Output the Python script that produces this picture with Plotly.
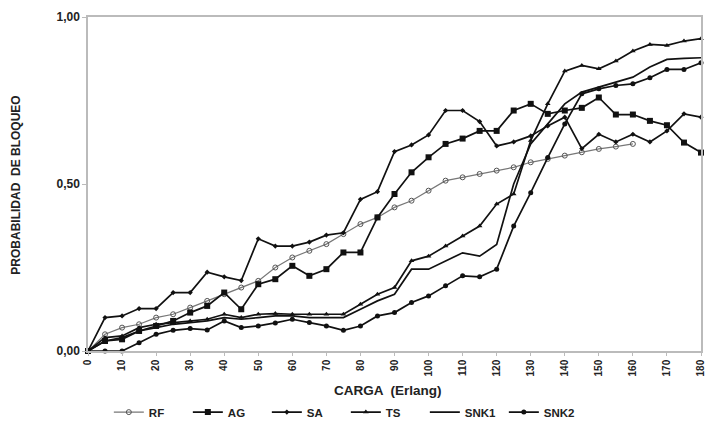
import plotly.graph_objects as go

carga = list(range(0, 185, 5))

rf = [0.00, 0.05, 0.07, 0.08, 0.10, 0.11, 0.13, 0.15, 0.17, 0.19, 0.21, 0.25, 0.28, 0.30, 0.32, 0.35,
      0.38, 0.40, 0.43, 0.45, 0.48, 0.51, 0.52, 0.53, 0.54, 0.55, 0.565, 0.575, 0.585, 0.595, 0.605,
      0.612, 0.62]
ag = [0.00, 0.03, 0.035, 0.06, 0.075, 0.09, 0.115, 0.135, 0.175, 0.125, 0.20, 0.215, 0.255, 0.225,
      0.245, 0.295, 0.295, 0.40, 0.47, 0.535, 0.58, 0.62, 0.636, 0.659, 0.659, 0.72, 0.74, 0.71,
      0.72, 0.728, 0.759, 0.708, 0.708, 0.689, 0.676, 0.624, 0.594]
sa = [0.00, 0.10, 0.105, 0.127, 0.127, 0.175, 0.175, 0.236, 0.222, 0.211, 0.336, 0.314, 0.314,
      0.326, 0.347, 0.354, 0.454, 0.477, 0.597, 0.617, 0.647, 0.72, 0.72, 0.687, 0.614, 0.626,
      0.644, 0.674, 0.70, 0.606, 0.649, 0.626, 0.649, 0.626, 0.659, 0.71, 0.70]
ts = [0.00, 0.04, 0.045, 0.07, 0.08, 0.085, 0.09, 0.095, 0.11, 0.10, 0.11, 0.112, 0.11, 0.11,
      0.11, 0.11, 0.14, 0.17, 0.19, 0.27, 0.284, 0.314, 0.344, 0.374, 0.44, 0.47, 0.63, 0.74,
      0.838, 0.855, 0.845, 0.868, 0.898, 0.918, 0.915, 0.928, 0.935]
snk1 = [0.00, 0.03, 0.04, 0.06, 0.07, 0.08, 0.085, 0.09, 0.10, 0.095, 0.10, 0.105, 0.105, 0.10,
        0.10, 0.10, 0.125, 0.15, 0.17, 0.245, 0.245, 0.27, 0.294, 0.284, 0.319, 0.50, 0.62, 0.68,
        0.74, 0.775, 0.79, 0.805, 0.82, 0.85, 0.873, 0.876, 0.878]
snk2 = [0.00, 0.00, 0.00, 0.025, 0.05, 0.062, 0.067, 0.063, 0.09, 0.07, 0.075, 0.084, 0.095,
        0.085, 0.075, 0.062, 0.075, 0.105, 0.115, 0.145, 0.165, 0.195, 0.225, 0.222, 0.245, 0.374,
        0.474, 0.579, 0.68, 0.77, 0.785, 0.795, 0.80, 0.818, 0.843, 0.843, 0.863]

x_ticks = list(range(0, 190, 10))
y_ticks = [0.0, 0.5, 1.0]
y_tick_text = ["0,00", "0,50", "1,00"]

FONT = "Liberation Sans, Arial, sans-serif"

series = [
    ("RF", rf, dict(symbol="circle-open", size=5, color="#555", line=dict(width=1)), dict(color="#777", width=1.2)),
    ("AG", ag, dict(symbol="square", size=6, color="#111"), dict(color="#111", width=1.7)),
    ("SA", sa, dict(symbol="diamond", size=4, color="#111"), dict(color="#111", width=1.7)),
    ("TS", ts, dict(symbol="triangle-up", size=5, color="#111"), dict(color="#111", width=1.7)),
    ("SNK1", snk1, None, dict(color="#111", width=1.7)),
    ("SNK2", snk2, dict(symbol="circle", size=5, color="#111"), dict(color="#111", width=1.7)),
]

fig = go.Figure()
for name, vals, mk, ln in series:
    kw = dict(x=carga[:len(vals)], y=vals, name=name, line=ln, cliponaxis=False)
    if mk is None:
        kw["mode"] = "lines"
    else:
        kw["mode"] = "lines+markers"
        kw["marker"] = mk
    fig.add_trace(go.Scatter(**kw))

fig.update_layout(
    width=707, height=429,
    margin=dict(l=88, r=6, t=17, b=78, autoexpand=False),
    paper_bgcolor="white", plot_bgcolor="white",
    font=dict(family=FONT, size=10, color="#222"),
    showlegend=True,
    legend=dict(orientation="h", x=0.034, y=-0.183, xanchor="left", yanchor="middle",
                font=dict(family=FONT, size=11.5, color="#222", weight="bold"),
                itemwidth=30, entrywidth=34, entrywidthmode="pixels", tracegroupgap=0),
    xaxis=dict(range=[0, 180], tickmode="array", tickvals=x_ticks, ticktext=[str(v) for v in x_ticks],
               tickangle=-90, showgrid=False, zeroline=False, showline=True, linecolor="#bbb",
               linewidth=1.5, mirror=True, ticks="outside", ticklen=3, tickcolor="#bbb",
               ticklabeloverflow="allow",
               tickfont=dict(family=FONT, size=10, color="#222", weight="bold")),
    yaxis=dict(range=[0, 1], tickmode="array", tickvals=y_ticks, ticktext=y_tick_text,
               showgrid=False, zeroline=False, showline=True, linecolor="#bbb", linewidth=1.5,
               mirror=True, ticks="outside", ticklen=4, tickcolor="#bbb",
               tickfont=dict(family=FONT, size=12, color="#222", weight="bold")),
    annotations=[
        dict(text="CARGA  (Erlang)", x=0.49, y=-0.117, xref="paper", yref="paper",
             showarrow=False, xanchor="center", yanchor="middle",
             font=dict(family=FONT, size=13.5, color="#222", weight="bold")),
        dict(text="PROBABILIDAD  DE BLOQUEO", x=-0.118, y=0.497, xref="paper", yref="paper",
             showarrow=False, xanchor="center", yanchor="middle", textangle=-90,
             font=dict(family=FONT, size=12, color="#222", weight="bold")),
    ],
)

# remove the default page margin so the figure sits at the window's top-left corner
fig.write_html("out.html",
               config={"displayModeBar": False},
               post_script="document.body.style.margin='0px';document.body.style.overflow='hidden';")
